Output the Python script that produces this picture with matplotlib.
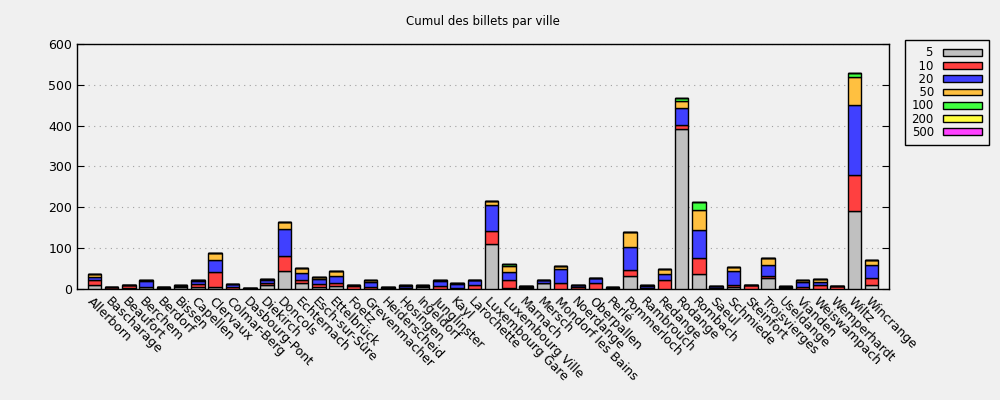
import numpy as np
import matplotlib
matplotlib.use("Agg")
import matplotlib.pyplot as plt

villes = [
    "Allerborn", "Bascharage", "Beaufort", "Berchem", "Berdorf", "Bissen",
    "Capellen", "Clervaux", "Colmar-Berg", "Dasbourg-Pont", "Diekirch",
    "Doncols", "Echternach", "Esch-sur-Sûre", "Ettelbrück", "Foetz",
    "Grevenmacher", "Heiderscheid", "Hosingen", "Ingeldorf", "Junglinster",
    "Kayl", "Larochette", "Luxembourg Gare", "Luxembourg Ville", "Marnach",
    "Mersch", "Mondorf les Bains", "Noerdange", "Oberpallen", "Perlé",
    "Pommerloch", "Rambrouch", "Redange", "Rodange", "Rombach", "Saeul",
    "Schmiede", "Steinfort", "Troisvierges", "Useldange", "Vianden",
    "Weiswampach", "Wemperhardt", "Wiltz", "Wincrange",
]

billets = ["5", "10", "20", "50", "100", "200", "500"]

b5 = [11, 1, 3, 4, 3, 6, 5, 4, 1, 1, 9, 44, 14, 5, 7, 1, 1, 1, 1, 6, 1, 1, 1,
      110, 2, 2, 14, 1, 1, 1, 2, 31, 1, 1, 391, 36, 1, 4, 1, 26, 1, 1, 1, 1,
      190, 11]
b10 = [10, 3, 7, 1, 1, 1, 8, 37, 5, 1, 5, 38, 8, 7, 8, 6, 5, 1, 1, 1, 7, 1, 9,
       33, 19, 3, 1, 13, 4, 14, 1, 15, 1, 20, 10, 39, 1, 7, 9, 7, 2, 5, 9, 6,
       88, 15]
b20 = [9, 1, 1, 15, 0, 0, 6, 30, 6, 1, 7, 64, 17, 12, 18, 2, 12, 2, 6, 1, 11,
       11, 11, 62, 21, 2, 6, 35, 5, 11, 1, 56, 6, 15, 42, 69, 6, 32, 1, 27, 1,
       10, 7, 1, 172, 34]
b50 = [7, 0, 0, 1, 0, 2, 2, 17, 1, 0, 4, 17, 12, 5, 11, 1, 5, 0, 1, 1, 4, 1, 2,
       10, 15, 1, 0, 8, 1, 2, 0, 37, 1, 12, 17, 49, 0, 12, 0, 16, 3, 6, 7, 0,
       68, 11]
b100 = [0, 0, 0, 0, 0, 0, 0, 0, 0, 0, 0, 0, 0, 0, 0, 0, 0, 0, 0, 0, 0, 0, 0,
        0, 5, 0, 0, 0, 0, 0, 0, 0, 0, 0, 8, 19, 0, 0, 0, 0, 0, 0, 0, 0, 10, 0]
b200 = [0] * len(villes)
b500 = [0] * len(villes)

series = [b5, b10, b20, b50, b100, b200, b500]
couleurs = ["#c0c0c0", "#ff4040", "#4040ff", "#ffc040", "#40ff40", "#ffff40",
            "#ff40ff"]

bg = "#f0f0f0"
plt.rcParams["font.family"] = "DejaVu Sans"
plt.rcParams["font.size"] = 8

fig = plt.figure(figsize=(10, 4), dpi=100, facecolor=bg)
ax = fig.add_axes([0.077, 0.2775, 0.812, 0.6125], facecolor=bg)

# labels alignes a droite avec des espaces de chiffre
largeur = max(len(b) for b in billets)
labels = [b.rjust(largeur, "\u2007") for b in billets]

x = np.arange(len(villes))
bottom = np.zeros(len(villes))
for vals, couleur, label in zip(series, couleurs, labels):
    vals = np.array(vals, dtype=float)
    ax.bar(x, vals, 0.78, bottom=bottom, color=couleur, edgecolor="black",
           linewidth=1, label=label, zorder=3)
    bottom += vals

ax.set_xlim(-1, 46)
ax.set_ylim(0, 600)
ax.set_yticks(range(0, 601, 100))
ax.set_xticks(x)
ax.set_xticklabels(villes, rotation=-45, ha="left", va="top",
                   rotation_mode="anchor", fontsize=9)
ax.tick_params(axis="x", length=0, pad=4)
ax.tick_params(axis="y", direction="in", length=5, right=True, labelsize=9)
ax.grid(axis="y", color="#a0a0a0", linestyle=(0, (1, 4)), linewidth=0.8,
        zorder=0)
for s in ax.spines.values():
    s.set_linewidth(1)

ax.set_title("Cumul des billets par ville", fontsize=8.5, pad=14)

leg = fig.legend(loc="upper left", bbox_to_anchor=(0.905, 0.9),
                 borderaxespad=0, markerfirst=False, fancybox=False,
                 framealpha=1, edgecolor="black", facecolor=bg, fontsize=8.5,
                 handlelength=3.3, handleheight=0.5, labelspacing=0.02,
                 borderpad=0.55, handletextpad=0.8)
leg.get_frame().set_linewidth(1)

fig.savefig("out.png", dpi=100, facecolor=bg)
